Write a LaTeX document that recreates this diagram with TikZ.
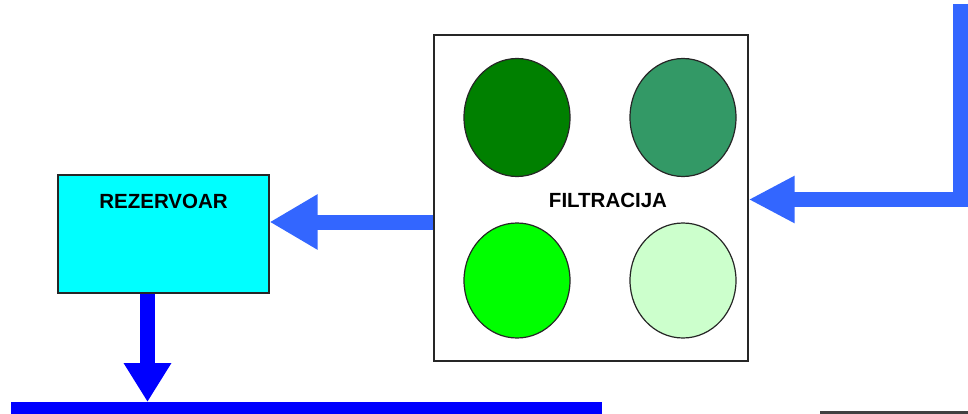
\documentclass[tikz,border=0pt]{standalone}
\usepackage{fontspec}
\setmainfont{Liberation Sans}
\usetikzlibrary{arrows.meta, positioning, shapes.geometric}

\definecolor{tankcyan}{RGB}{0,255,255}
\definecolor{pipeblue}{RGB}{51,102,255}
\definecolor{mainblue}{RGB}{0,0,255}
\definecolor{filterA}{RGB}{0,128,0}
\definecolor{filterB}{RGB}{51,153,102}
\definecolor{filterC}{RGB}{0,255,0}
\definecolor{filterD}{RGB}{204,255,204}

\tikzset{
    tank/.style={draw=black!85, line width=1.2pt, fill=tankcyan, minimum width=211pt, minimum height=118pt, inner sep=0pt},
    unit/.style={draw=black!85, line width=1.2pt, fill=white, minimum width=314pt, minimum height=326pt, inner sep=0pt},
    bed/.style={draw=black!85, line width=1.2pt, ellipse, minimum width=106pt, minimum height=118pt, inner sep=0pt},
    title/.style={font=\fontsize{20.5}{24}\selectfont\bfseries},
    flow/.style={pipeblue, line width=15pt, -{Triangle[length=48pt, width=52pt]}},
    inflow/.style={pipeblue, line width=15pt, miter limit=10, -{Triangle[length=46pt, width=44pt]}},
    drain/.style={mainblue, line width=15pt, -{Triangle[length=39pt, width=45pt]}}
}

\begin{document}
\begin{tikzpicture}[x=1pt, y=-1pt]
    \useasboundingbox (0,0) rectangle (968,414);

    % Reservoir
    \node[tank] (rez) at (163.5,234) {};
    \node[title, below=16pt of rez.north] (reztxt) {REZERVOAR};

    % Filter unit with four beds
    \node[unit] (filt) at (591,198) {};
    \node[bed, fill=filterA] (bedA) at (517,117.5) {};
    \node[bed, fill=filterB] (bedB) at (683,117.5) {};
    \node[bed, fill=filterC, minimum height=115pt] (bedC) at (517,280.5) {};
    \node[bed, fill=filterD, minimum height=115pt] (bedD) at (683,280.5) {};
    \node[title] (filttxt) at (608,200) {FILTRACIJA};

    % Inflow from the right
    \coordinate (inlet) at (960.5,4);
    \draw[inflow] (inlet) |- ([yshift=-1.5pt]filt.east);

    % Filter to reservoir
    \draw[flow] ([yshift=12pt]filt.west |- rez.east) -- ([yshift=12pt]rez.east);

    % Main line
    \node[fill=mainblue, minimum width=591pt, minimum height=14pt, inner sep=0pt, anchor=north west] (main) at (11,402) {};
    \draw[drain] ([xshift=-16pt]rez.south) -- ([xshift=-16pt]rez.south |- main.north);

    % Strip in the corner
    \fill[black!75] (820,411) rectangle (968,414);
\end{tikzpicture}
\end{document}
